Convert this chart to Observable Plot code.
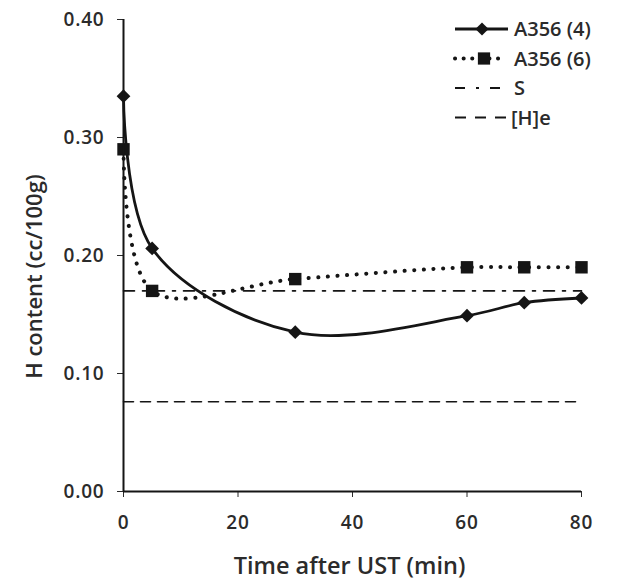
<!DOCTYPE html>
<html><head><meta charset="utf-8">
<script src="https://cdn.jsdelivr.net/npm/d3@7"></script>
<script src="https://cdn.jsdelivr.net/npm/@observablehq/plot@0.6"></script>
<style>
body{margin:0;background:#fff;}
#wrap{position:relative;width:618px;height:588px;font-family:"Open Sans",sans-serif;}
#legend{position:absolute;left:0;top:0;}
</style></head>
<body><div id="wrap"></div>
<script>
const time = [0, 5, 30, 60, 70, 80];
const a356_4 = [0.335, 0.206, 0.135, 0.149, 0.160, 0.164];
const a356_6 = [0.290, 0.170, 0.180, 0.190, 0.190, 0.190];
const sLevel = 0.170;
const heLevel = 0.076;
const xTicks = [0, 20, 40, 60, 80];
const yTicks = [0, 0.1, 0.2, 0.3, 0.4];
const seriesNames = ["A356 (4)", "A356 (6)", "S", "[H]e"];
const xLabel = "Time after UST (min)";
const yLabel = "H content (cc/100g)";

const d4 = time.map((t, i) => ({t, v: a356_4[i]}));
const d6 = time.map((t, i) => ({t, v: a356_6[i]}));
const ref = (v) => [{t: time[0], v}, {t: time[time.length - 1], v}];

const font = "Open Sans, sans-serif";
const ink = "#151515";
const textInk = "#2b2b2b";
const chart = Plot.plot({
  width: 618, height: 588,
  marginLeft: 123, marginRight: 37, marginTop: 19, marginBottom: 97,
  style: {fontFamily: font, fontSize: "19px", fontWeight: 600, color: textInk, background: "#fff", letterSpacing: "0.8px"},
  x: {domain: [0, 80], ticks: xTicks, label: null, tickSize: 6, tickPadding: 18},
  y: {domain: [0, 0.4], ticks: yTicks, tickFormat: d3.format(".2f"), label: null, tickSize: 6, tickPadding: 13},
  marks: [
    Plot.line(ref(heLevel), {x: "t", y: "v", stroke: ink, strokeWidth: 1.6, strokeDasharray: "10 7"}),
    Plot.line(ref(sLevel), {x: "t", y: "v", stroke: ink, strokeWidth: 1.6, strokeDasharray: "11 8 3 8"}),
    Plot.line(d6, {x: "t", y: "v", curve: "catmull-rom", stroke: ink, strokeWidth: 4, strokeDasharray: "0.1 9.5", strokeLinecap: "round"}),
    Plot.line(d4, {x: "t", y: "v", curve: "catmull-rom", stroke: ink, strokeWidth: 2.8}),
    Plot.dot(d6, {x: "t", y: "v", symbol: "square", r: 7, fill: ink}),
    Plot.dot(d4, {x: "t", y: "v", symbol: "diamond2", r: 6.2, fill: ink, stroke: "none"}),
    Plot.ruleX([0], {stroke: ink, strokeWidth: 2}),
    Plot.ruleY([0], {stroke: ink, strokeWidth: 2}),
    Plot.text([xLabel], {frameAnchor: "bottom", dy: 82, dx: -3, fontSize: 23.5, fill: textInk, lineAnchor: "bottom", textAnchor: "middle", text: d => d}),
    Plot.text([yLabel], {frameAnchor: "left", dx: -89, dy: 21, rotate: -90, fontSize: 22, fill: textInk, lineAnchor: "middle", textAnchor: "middle", text: d => d})
  ]
});
chart.querySelectorAll("text").forEach(t => { if (t.textContent === xLabel || t.textContent === yLabel) t.style.letterSpacing = "0px"; });
const wrap = document.getElementById("wrap");
wrap.appendChild(chart);

// legend
const lg = d3.select(wrap).append("svg").attr("id", "legend").attr("width", 618).attr("height", 140);
const rows = [
  {name: seriesNames[0], dash: null, w: 2.8, sym: "diamond", x2: 508},
  {name: seriesNames[1], dash: "0.1 8.5", w: 4, sym: "square", cap: "round", x2: 504},
  {name: seriesNames[2], dash: "10 11 3 11 10", w: 1.8, x2: 500},
  {name: seriesNames[3], dash: "11 9", w: 1.8, x2: 506}
];
rows.forEach((r, i) => {
  const y = 29 + i * 29.5;
  lg.append("line").attr("x1", 455).attr("x2", r.x2).attr("y1", y).attr("y2", y)
    .attr("stroke", ink).attr("stroke-width", r.w)
    .attr("stroke-dasharray", r.dash).attr("stroke-linecap", r.cap || "butt");
  if (r.sym) {
    lg.append("path").attr("transform", `translate(${r.sym === "diamond" ? 482 : 484},${y})`)
      .attr("d", d3.symbol(r.sym === "diamond" ? d3.symbolDiamond2 : d3.symbolSquare, r.sym === "diamond" ? 110 : 150)())
      .attr("fill", ink);
  }
  lg.append("text").attr("x", i === 3 ? 511 : 514).attr("y", y).attr("dy", "0.35em")
    .attr("font-family", font).attr("font-size", 20).attr("font-weight", 600).attr("fill", textInk).text(r.name);
});
</script></body></html>
